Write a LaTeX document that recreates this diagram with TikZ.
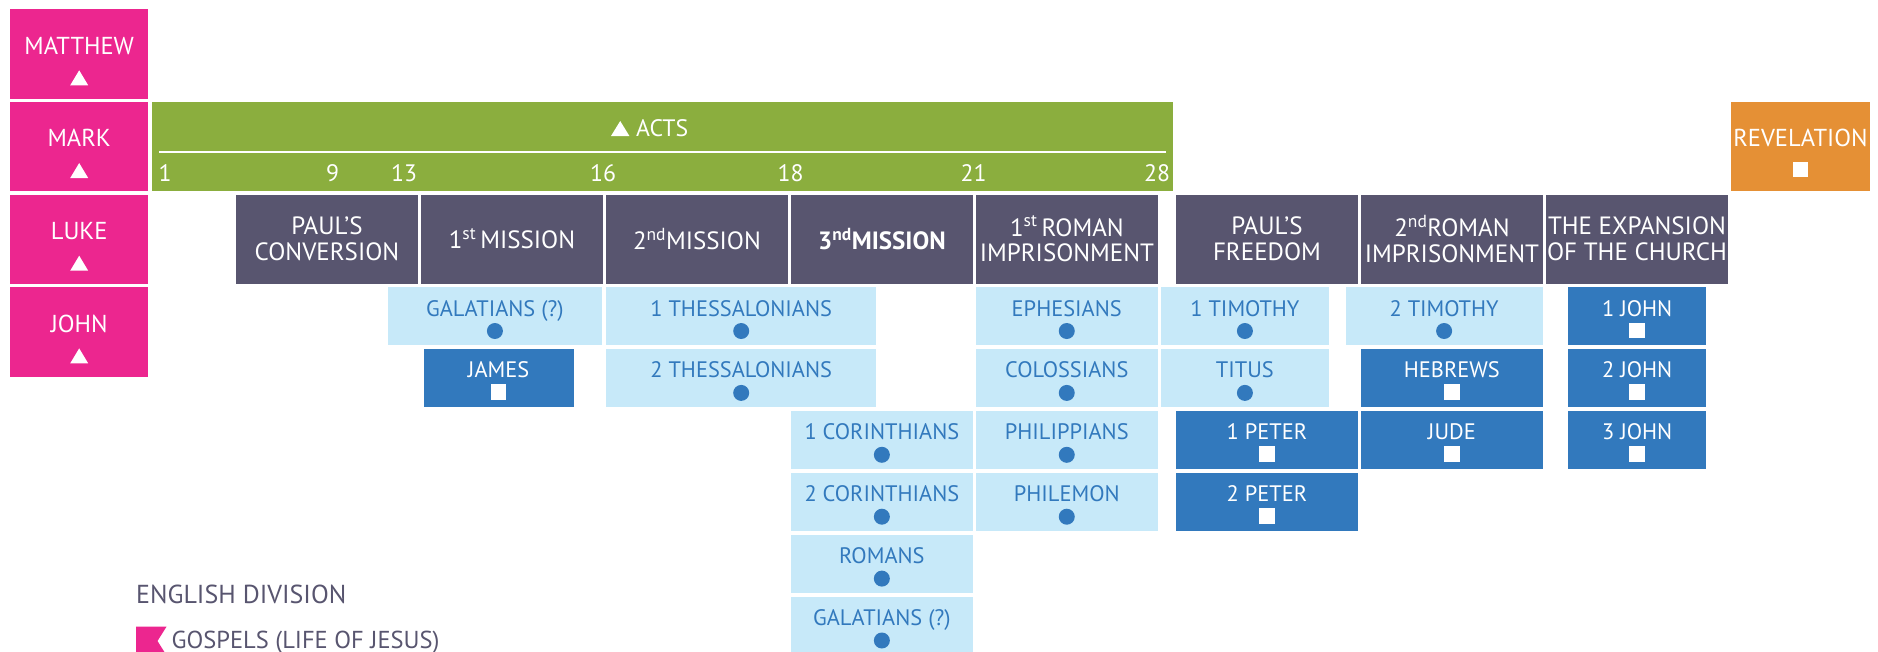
\documentclass[tikz,border=0pt]{standalone}
\usepackage{fontspec}
\setmainfont{PT Sans}
\usetikzlibrary{calc, positioning}
\definecolor{gospelpink}{RGB}{236,38,143}
\definecolor{actsgreen}{RGB}{139,174,62}
\definecolor{erapurple}{RGB}{88,85,111}
\definecolor{letterblue}{RGB}{50,121,189}
\definecolor{letterlight}{RGB}{199,233,249}
\definecolor{revorange}{RGB}{229,144,53}

\begin{document}
\begin{tikzpicture}[x=1pt, y=-1pt,
    every node/.style={inner sep=0pt, anchor=north west},
    gospel/.style={fill=gospelpink, text=white, minimum width=138.4pt, minimum height=89.3pt,
        font=\fontsize{24.5}{28}\selectfont, text height=17.15pt, text depth=16.35pt},
    era/.style={fill=erapurple, text=white, minimum width=181.5pt, minimum height=89pt,
        align=center, font=\fontsize{25}{25.8}\selectfont},
    letter/.style={fill=letterlight, text=letterblue, minimum height=58pt,
        font=\fontsize{22.4}{26}\selectfont, text height=15.7pt, text depth=16pt},
    general/.style={letter, fill=letterblue, text=white},
    chapter/.style={anchor=center, text=white, font=\fontsize{23.8}{26}\selectfont,
        text height=16.7pt, text depth=0pt},
    legend/.style={anchor=west, text=erapurple, font=\fontsize{26}{30}\selectfont,
        text height=18.2pt, text depth=0pt}]
    \useasboundingbox (0,0) rectangle (1878,651);
    % gospels
    \node[gospel] (matt) at (9.8,9) {MATTHEW};
    \node[gospel] (mark) at (9.8,101.7) {MARK};
    \node[gospel] (luke) at (9.8,194.4) {LUKE};
    \node[gospel] (john) at (9.8,287.1) {JOHN};
    \foreach \g in {matt,mark,luke,john}
        \fill[white] ($(\g.north)+(-9,76.3)$) -- ++(18,0) -- ++(-9,-15) -- cycle;
    % acts
    \node[fill=actsgreen, minimum width=1021.3pt, minimum height=89pt] (acts) at (151.4,101.7) {};
    \draw[white, line width=2.7pt] ($(acts.north west)+(7.6,50.3)$) -- ($(acts.north east)+(-7.2,50.3)$);
    \fill[white] (611,136) -- (629.4,136) -- (620.2,121) -- cycle;
    \node[chapter, anchor=west] (actsname) at (636,128) {ACTS};
    \foreach \n/\x in {1/165.2, 9/332.7, 13/404, 16/603, 18/790.6, 21/973.5, 28/1157.2}
        \node[chapter] (ch\n) at (\x,173.3) {\n};
    % revelation
    \node[gospel, fill=revorange] (rev) at (1731,101.7) {REVELATION};
    \fill[white] ($(rev.north)+(-7.5,60.3)$) rectangle ++(15,15);
    % periods
    \foreach \e/\x/\t in {conv/236/{PAUL’S\\CONVERSION}, mone/421/{1\textsuperscript{st}\,MISSION},
        mtwo/606/{2\textsuperscript{nd}MISSION}, mthree/791/{\textbf{3\textsuperscript{nd}MISSION}},
        romone/976/{1\textsuperscript{st}\,ROMAN\\IMPRISONMENT}, free/1176/{PAUL’S\\FREEDOM},
        romtwo/1361/{2\textsuperscript{nd}ROMAN\\IMPRISONMENT}, expan/1546/{THE EXPANSION\\OF THE CHURCH}}
        \node[era] (\e) at (\x,194.4) {\t};
    % letters of paul
    \foreach \b/\x/\r/\w/\t in {galone/387.4/0/214.6/GALATIANS (?), thone/606/0/270/1 THESSALONIANS,
        thtwo/606/1/270/2 THESSALONIANS, coone/791/2/181.3/1 CORINTHIANS, cotwo/791/3/181.3/2 CORINTHIANS,
        rom/791/4/181.3/ROMANS, galtwo/791/5/181.3/GALATIANS (?), eph/975.5/0/182.1/EPHESIANS,
        col/975.5/1/182.1/COLOSSIANS, php/975.5/2/182.1/PHILIPPIANS, phm/975.5/3/182.1/PHILEMON,
        tmone/1161/0/167.4/1 TIMOTHY, tit/1161/1/167.4/TITUS, tmtwo/1345.3/0/197.2/2 TIMOTHY}
        \node[letter, minimum width=\w pt] (\b) at (\x,{287+61.9*\r}) {\t};
    \foreach \b in {galone,thone,thtwo,coone,cotwo,rom,galtwo,eph,col,php,phm,tmone,tit,tmtwo}
        \fill[letterblue] ($(\b.north)+(0,44)$) circle (8pt);
    % general letters
    \foreach \b/\x/\r/\w/\t in {jas/423.3/1/150.2/JAMES, peone/1176/2/181.4/1 PETER, petwo/1176/3/181.4/2 PETER,
        heb/1360.8/1/181.7/HEBREWS, jud/1360.8/2/181.7/JUDE, jnone/1568/0/138/1 JOHN,
        jntwo/1568/1/138/2 JOHN, jnthree/1568/2/138/3 JOHN}
        \node[general, minimum width=\w pt] (\b) at (\x,{287+61.9*\r}) {\t};
    \foreach \b in {jas,peone,petwo,heb,jud,jnone,jntwo,jnthree}
        \fill[white] ($(\b.north)+(-7.75,35.5)$) rectangle ++(15.5,15.5);
    % legend
    \node[legend] (division) at (136,594) {ENGLISH DIVISION};
    \fill[gospelpink] (136,626.7) -- (166.5,626.7) -- (157.5,641) -- (166.5,655.3) -- (136,655.3) -- cycle;
    \node[legend, font=\fontsize{24.5}{28}\selectfont, text height=17.2pt] (gospels) at (171.4,639.4) {GOSPELS (LIFE OF JESUS)};
\end{tikzpicture}
\end{document}
